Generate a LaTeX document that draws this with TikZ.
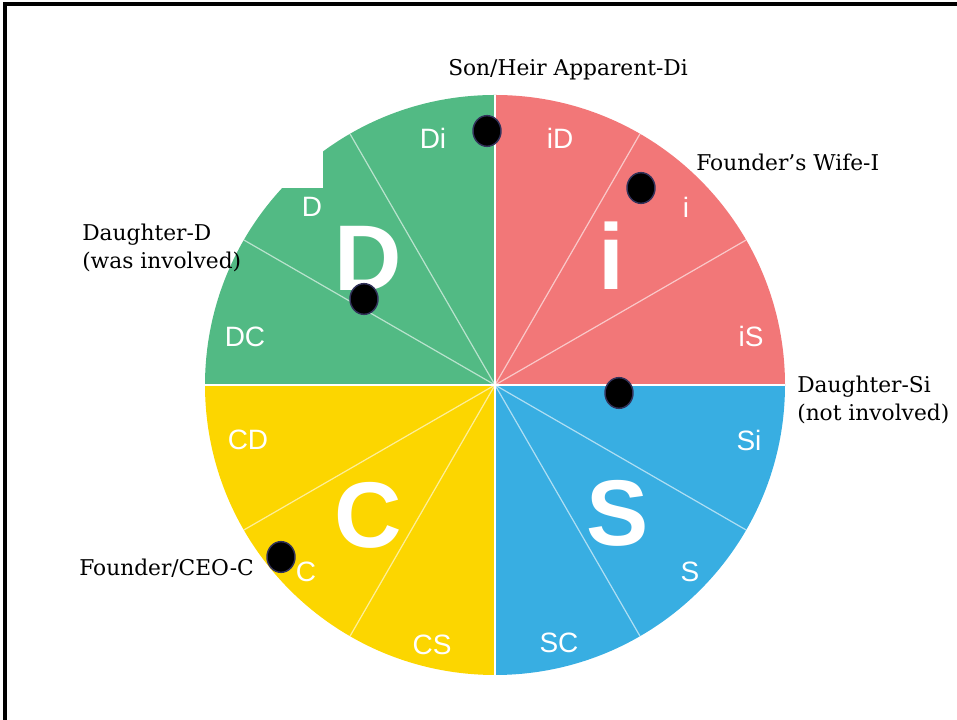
\documentclass[tikz,border=0pt]{standalone}
\usepackage{fontspec}
\setmainfont{DejaVu Serif}
\newfontfamily\chartfont{Liberation Sans}
\usetikzlibrary{shapes.geometric}
\definecolor{discD}{RGB}{82,186,132}
\definecolor{discI}{RGB}{242,119,120}
\definecolor{discS}{RGB}{56,174,226}
\definecolor{discC}{RGB}{252,214,0}
\definecolor{dotrim}{RGB}{50,50,90}

\begin{document}
\begin{tikzpicture}
  [x=0.75pt,y=0.75pt,
   person/.style={ellipse,fill=black,draw=dotrim,line width=1.1pt,minimum width=21pt,minimum height=23pt,inner sep=0pt},
   roletag/.style={anchor=west,align=left,inner sep=0pt,font=\fontsize{16.3}{21}\selectfont},
   sublbl/.style={text=white,inner sep=0pt,font=\chartfont\fontsize{21}{21}\selectfont},
   biglbl/.style={text=white,inner sep=0pt,font=\chartfont\bfseries\fontsize{70}{70}\selectfont},
   thinsep/.style={white,opacity=.6,line width=.9pt},
   quadsep/.style={white,line width=1.4pt}]
  \useasboundingbox (0,0) rectangle (957,720);
  \draw[line width=2.4pt] (5,0) -- (5,716) -- (957,716);

  \begin{scope}[shift={(495,335)}]
    \foreach \a/\col in {0/discI,90/discD,180/discC,270/discS}
      \fill[\col] (0,0) -- (\a:290) arc[start angle=\a,end angle=\a+90,radius=290] -- cycle;
    \foreach \a in {30,60,120,150,210,240,300,330}
      \draw[thinsep] (0,0) -- (\a:290);
    \foreach \a in {0,90,180,270}
      \draw[quadsep] (0,0) -- (\a:290);
  \end{scope}
  \fill[white] (262,532) rectangle (323,585);

  \foreach \n/\x/\y in {Di/433/582, D/312/513, DC/245/383, iD/560/582, i/686/513, iS/751/383,
    Si/749/280, S/690/148, SC/559/77, CS/432/75, C/306/148, CD/248/280}
    \node[sublbl] (sub\n) at (\x,\y) {\n};
  \foreach \n/\x/\y in {D/368/462, i/611/464, C/368/205, S/618/207}
    \node[biglbl] (big\n) at (\x,\y) {\n};

  \node[person] (son) at (487,589) {};
  \node[person] (wife) at (641,532) {};
  \node[person] (daughterD) at (364,421) {};
  \node[person] (daughterS) at (619,327) {};
  \node[person] (founder) at (281,163) {};

  \node[roletag] (sontag) at (448,650) {Son/Heir Apparent-Di};
  \node[roletag] (wifetag) at (696,558) {Founder’s Wife-I};
  \node[roletag] (daughterDtag) at (82,472) {Daughter-D\\(was involved)};
  \node[roletag] (daughterStag) at (797,320) {Daughter-Si\\(not involved)};
  \node[roletag] (foundertag) at (79,152) {Founder/CEO-C};
\end{tikzpicture}
\end{document}
